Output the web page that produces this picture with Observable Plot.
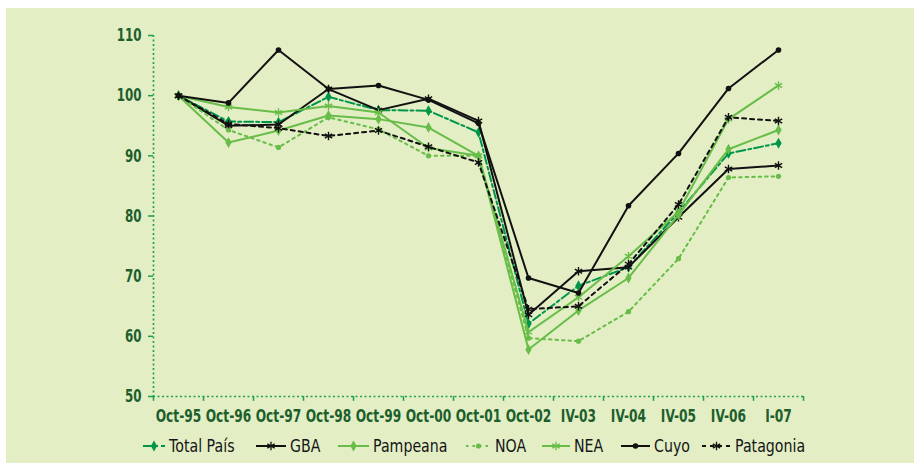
<!DOCTYPE html>
<html>
<head>
<meta charset="utf-8">
<script src="https://cdn.jsdelivr.net/npm/d3@7"></script>
<script src="https://cdn.jsdelivr.net/npm/@observablehq/plot@0.6"></script>
<style>
  html, body { margin: 0; padding: 0; background: #ffffff; }
  #wrap { position: absolute; left: 6px; top: 8px; width: 908px; height: 455px; background: #E3EEC5; overflow: hidden; }
  #chart svg { display: block; }
  #legend { position: absolute; left: 0; top: 425px; width: 908px; height: 26px;
            font-family: 'DejaVu Sans', sans-serif; font-size: 17.5px; color: #151515; }
  .sw { position: absolute; top: 6px; }
  .lt { position: absolute; top: 2px; white-space: nowrap; transform: scaleX(0.81); transform-origin: left center; line-height: 22px; }
</style>
</head>
<body>
<div id="wrap">
  <div id="chart"></div>
  <div id="legend"></div>
</div>
<script>
const categories = ["Oct-95","Oct-96","Oct-97","Oct-98","Oct-99","Oct-00","Oct-01","Oct-02","IV-03","IV-04","IV-05","IV-06","I-07"];
const yTicks = [50, 60, 70, 80, 90, 100, 110];
const seriesNames = ["Total País","GBA","Pampeana","NOA","NEA","Cuyo","Patagonia"];

const totalPais = [100, 95.7, 95.6, 99.8, 97.6, 97.5, 93.9, 62.1, 68.4, 71.5, 80.6, 90.4, 92.1];
const gba       = [100, 95.0, 95.2, 101.1, 97.6, 99.5, 95.8, 63.6, 70.8, 71.5, 79.8, 87.8, 88.4];
const pampeana  = [100, 92.2, 94.2, 96.7, 96.1, 94.7, 90.0, 57.8, 64.3, 69.7, 80.2, 91.1, 94.3];
const noa       = [100, 94.3, 91.4, 96.4, 94.4, 90.0, 90.0, 59.7, 59.2, 64.1, 72.9, 86.4, 86.6];
const nea       = [100, 98.1, 97.2, 98.3, 97.2, 91.3, 90.0, 60.7, 66.5, 73.3, 80.7, 96.1, 101.7];
const cuyo      = [100, 98.8, 107.6, 101.1, 101.7, 99.3, 95.4, 69.7, 67.2, 81.7, 90.4, 101.2, 107.6];
const patagonia = [100, 95.3, 94.6, 93.3, 94.2, 91.5, 88.9, 64.5, 65.0, 72.0, 81.9, 96.4, 95.8];

const seriesValues = [totalPais, gba, pampeana, noa, nea, cuyo, patagonia];

const axisGreen = "#1E9E55";
const labelGreen = "#1C5E2C";
const darkGreen = "#00964A";
const lightGreen = "#67BD48";
const black = "#111111";

const styles = {
  "Total País": {stroke: darkGreen, dash: "9,3,3,3", symbol: "diamond", r: 3.3},
  "GBA":        {stroke: black, dash: null, symbol: "asterisk", r: 4},
  "Pampeana":   {stroke: lightGreen, dash: null, symbol: "diamond", r: 3.3},
  "NOA":        {stroke: lightGreen, dash: "2.5,4", symbol: "circle", r: 2.6},
  "NEA":        {stroke: lightGreen, dash: null, symbol: "asterisk", r: 4},
  "Cuyo":       {stroke: black, dash: null, symbol: "circle", r: 2.8},
  "Patagonia":  {stroke: black, dash: "4,4", symbol: "asterisk", r: 4}
};

// legend layout (positions in px within the background panel)
const legendSwatchLeft = [137, 250, 332, 460, 536, 615, 696];
const legendTextLeft   = [163, 284, 367, 489, 568, 648, 729];

const rows = [];
seriesNames.forEach((s, i) => categories.forEach((c, j) => rows.push({series: s, cat: c, value: seriesValues[i][j]})));

const fontFamily = "'DejaVu Sans', sans-serif";

const marks = [
  Plot.ruleY([50], {stroke: axisGreen, strokeWidth: 1.6, strokeDasharray: "2,2.5"}),
  Plot.ruleX([categories[0]], {x: d => d, dx: -25, stroke: axisGreen, strokeWidth: 1.6, strokeDasharray: "2,2.5"}),
  Plot.ruleX(categories, {x: d => d, y1: d => 50, y2: d => 49.2, dx: -25, stroke: axisGreen, strokeWidth: 1.5}),
  Plot.ruleX([categories[categories.length - 1]], {x: d => d, y1: d => 50, y2: d => 49.2, dx: 25, stroke: axisGreen, strokeWidth: 1.5}),
  Plot.axisY({ticks: yTicks, tickSize: 5, tickPadding: 7, stroke: axisGreen, strokeWidth: 1.5, fill: labelGreen, fontSize: 18, fontWeight: "bold", label: null}),
  Plot.axisX({tickSize: 0, tickPadding: 13, fill: labelGreen, fontSize: 17.5, fontWeight: "bold", label: null})
];

seriesNames.forEach(s => {
  const st = styles[s];
  const data = rows.filter(d => d.series === s);
  marks.push(Plot.line(data, {x: "cat", y: "value", stroke: st.stroke, strokeWidth: 2, strokeDasharray: st.dash || undefined}));
  if (st.symbol === "asterisk") {
    marks.push(Plot.dot(data, {x: "cat", y: "value", symbol: "asterisk", r: st.r, stroke: st.stroke, strokeWidth: 1.4}));
  } else {
    marks.push(Plot.dot(data, {x: "cat", y: "value", symbol: st.symbol, r: st.r, fill: st.stroke, stroke: "none"}));
  }
});

const chart = Plot.plot({
  width: 908,
  height: 425,
  marginLeft: 147,
  marginRight: 111,
  marginTop: 27,
  marginBottom: 37,
  style: {background: "transparent", fontFamily: fontFamily},
  x: {type: "point", domain: categories, padding: 0.5, axis: null},
  y: {domain: [50, 110], axis: null},
  marks
});
document.getElementById("chart").appendChild(chart);

// condense axis label glyphs horizontally around their anchor (reference uses a condensed typeface)
Array.from(chart.querySelectorAll("text")).forEach(t => {
  const anchor = getComputedStyle(t).textAnchor;
  const k = anchor === "end" ? 0.66 : 0.7;
  const bb = t.getBBox();
  let ax = bb.x;
  if (anchor === "middle") ax = bb.x + bb.width / 2;
  else if (anchor === "end") ax = bb.x + bb.width;
  let tx = 0;
  const tl = t.transform && t.transform.baseVal;
  if (tl && tl.numberOfItems) tx = tl.consolidate().matrix.e;
  const A = tx + ax;
  const g = document.createElementNS("http://www.w3.org/2000/svg", "g");
  g.setAttribute("transform", `translate(${A},0) scale(${k},1) translate(${-A},0)`);
  t.parentNode.insertBefore(g, t);
  g.appendChild(t);
});

// Legend
const legend = document.getElementById("legend");
const symMap = {diamond: d3.symbolDiamond, asterisk: d3.symbolAsterisk, circle: d3.symbolCircle};
seriesNames.forEach((s, i) => {
  const st = styles[s];
  const w = legendTextLeft[i] - legendSwatchLeft[i] - 4, h = 14;
  const svg = d3.create("svg").attr("class", "sw").attr("width", w).attr("height", h)
    .style("left", legendSwatchLeft[i] + "px");
  let dash = null;
  if (st.dash === "9,3,3,3") dash = "9,3,3,3";
  else if (st.dash === "2.5,4") dash = "2.5,4";
  else if (st.dash) dash = "4,4";
  svg.append("line").attr("x1", 0).attr("x2", w).attr("y1", h / 2).attr("y2", h / 2)
    .attr("stroke", st.stroke).attr("stroke-width", 2)
    .attr("stroke-dasharray", dash);
  const path = d3.symbol(symMap[st.symbol], Math.PI * st.r * st.r)();
  const p = svg.append("path").attr("d", path).attr("transform", `translate(${w / 2},${h / 2})`);
  if (st.symbol === "asterisk") p.attr("fill", "none").attr("stroke", st.stroke).attr("stroke-width", 1.3);
  else p.attr("fill", st.stroke);
  legend.appendChild(svg.node());
  const span = document.createElement("span");
  span.className = "lt";
  span.style.left = legendTextLeft[i] + "px";
  span.textContent = s;
  legend.appendChild(span);
});
</script>
</body>
</html>
